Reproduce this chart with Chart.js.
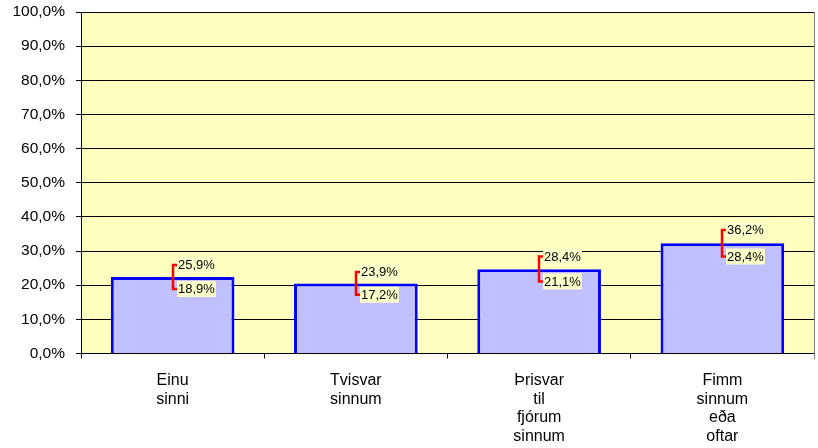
<!DOCTYPE html>
<html>
<head>
<meta charset="utf-8">
<script src="https://cdn.jsdelivr.net/npm/chart.js@4"></script>
<style>
html,body{margin:0;padding:0;background:#fff;}
#wrap{width:818px;height:448px;position:relative;}
</style>
</head>
<body>
<div id="wrap"><canvas id="c"></canvas></div>
<script>
const categories = [["Einu","sinni"],["Tvisvar","sinnum"],["Þrisvar","til","fjórum","sinnum"],["Fimm","sinnum","eða","oftar"]];
const values = [22.4, 20.5, 24.7, 32.3];
const lowerCI = [18.9, 17.2, 21.1, 28.4];
const upperCI = [25.9, 23.9, 28.4, 36.2];
const yTicks = [0,10,20,30,40,50,60,70,80,90,100];

const fmt = v => v.toFixed(1).replace('.', ',') + '%';

const bgPlugin = {
  id: 'bg',
  beforeDraw(chart) {
    const {ctx, chartArea: a} = chart;
    ctx.save();
    ctx.fillStyle = '#FFFFC0';
    ctx.fillRect(a.left, a.top, a.right - a.left, a.bottom - a.top);
    ctx.restore();
  },
  afterDraw(chart) {
    const {ctx, chartArea: a} = chart;
    ctx.save();
    ctx.strokeStyle = '#808080';
    ctx.lineWidth = 1;
    ctx.beginPath();
    ctx.moveTo(a.right + 0.5, a.top);
    ctx.lineTo(a.right + 0.5, a.bottom + 5);
    ctx.stroke();
    ctx.restore();
  }
};

const errPlugin = {
  id: 'err',
  afterDatasetsDraw(chart) {
    const {ctx} = chart;
    const xs = chart.scales.x, ys = chart.scales.y;
    ctx.save();
    for (let i = 0; i < values.length; i++) {
      const x = Math.round(xs.getPixelForValue(i));
      const yh = ys.getPixelForValue(upperCI[i]);
      const yl = ys.getPixelForValue(lowerCI[i]);
      ctx.strokeStyle = '#FF0000';
      ctx.lineWidth = 2.5;
      ctx.beginPath();
      ctx.moveTo(x + 4, yh);
      ctx.lineTo(x, yh);
      ctx.lineTo(x, yl);
      ctx.lineTo(x + 4, yl);
      ctx.stroke();
      ctx.font = '13px "Liberation Sans", Arial, sans-serif';
      ctx.textBaseline = 'middle';
      ctx.textAlign = 'left';
      [[upperCI[i], yh], [lowerCI[i], yl]].forEach(([v, y]) => {
        const t = fmt(v);
        const w = ctx.measureText(t).width;
        ctx.fillStyle = '#FFFFCC';
        ctx.fillRect(x + 4, y - 8, w + 2, 16);
        ctx.fillStyle = '#000';
        ctx.fillText(t, x + 5, y + 0.5);
      });
    }
    ctx.restore();
  }
};

new Chart(document.getElementById('c'), {
  type: 'bar',
  data: {
    labels: categories,
    datasets: [{
      data: values,
      backgroundColor: '#C0C0FF',
      borderColor: '#0000FF',
      borderWidth: 3,
      barPercentage: 0.675,
      categoryPercentage: 1
    }]
  },
  options: {
    responsive: true,
    maintainAspectRatio: false,
    animation: false,
    layout: {padding: {top: 12, right: 4, left: 0, bottom: 0}},
    plugins: {legend: {display: false}, tooltip: {enabled: false}},
    scales: {
      x: {
        grid: {display: true, drawOnChartArea: false, drawTicks: true, tickLength: 5, color: '#000', offset: true},
        border: {display: true, color: '#000', width: 1},
        ticks: {
          color: '#000', maxRotation: 0, autoSkip: false, padding: 13,
          font: {family: '"Liberation Sans", Arial, sans-serif', size: 16, lineHeight: 1.16}
        },
        afterFit(s) { s.height = 94.5; s.paddingLeft = 0; s.paddingRight = 0; }
      },
      y: {
        min: 0, max: 100,
        afterBuildTicks(s) { s.ticks = yTicks.map(v => ({value: v})); },
        grid: {color: '#000', lineWidth: 1, tickLength: 5, drawTicks: true},
        border: {display: true, color: '#000', width: 1},
        ticks: {
          color: '#000', padding: 11,
          font: {family: '"Liberation Sans", Arial, sans-serif', size: 15.5},
          callback: v => fmt(v)
        },
        afterFit(s) { s.width = 81; s.paddingTop = 0; s.paddingBottom = 0; }
      }
    }
  },
  plugins: [bgPlugin, errPlugin]
});
</script>
</body>
</html>
